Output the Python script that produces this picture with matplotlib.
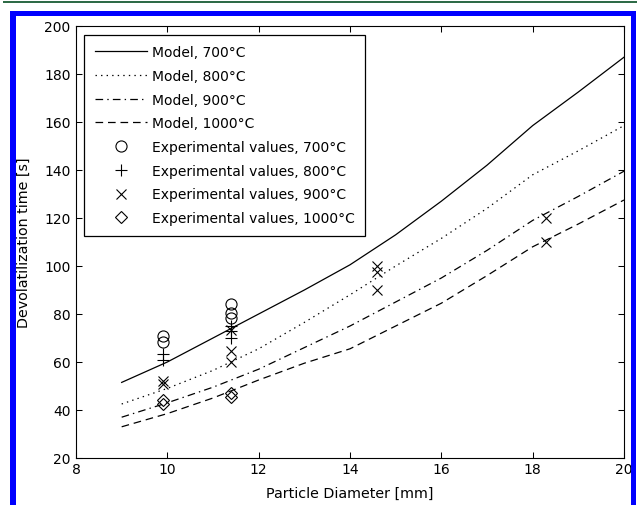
#!/usr/bin/env python3
"""Devolatilization time vs particle diameter: model curves and experiments."""

from __future__ import annotations

import matplotlib

matplotlib.use("Agg")
import matplotlib.pyplot as plt
from matplotlib.patches import Rectangle

W_PX, H_PX = 637, 506

# model curves
x_model = [9, 10, 11, 12, 13, 14, 15, 16, 17, 18, 19, 20]
t_700 = [51.5, 60, 70, 80, 90, 100.5, 113, 127, 142, 158.5, 172.5, 187]
t_800 = [42.5, 49, 56.5, 65.5, 76.5, 88, 100, 111.5, 124, 138, 148, 158.5]
t_900 = [37, 43, 49.5, 57, 66, 75, 85, 95, 106.5, 119, 129, 139.5]
t_1000 = [33, 38.5, 45, 52.5, 59.5, 65.5, 75, 84.5, 96, 108, 117.5, 127.5]

# experimental points
x_exp_700 = [9.9, 9.9, 11.4, 11.4, 11.4]
y_exp_700 = [71, 68.5, 84, 80.5, 78.5]
x_exp_800 = [9.9, 9.9, 11.4, 11.4, 11.4]
y_exp_800 = [63.5, 61, 75, 73, 70]
x_exp_900 = [9.9, 9.9, 11.4, 11.4, 11.4, 14.6, 14.6, 14.6, 18.3, 18.3]
y_exp_900 = [52, 51, 73.5, 64.5, 60, 100, 97.5, 90, 120, 110]
x_exp_1000 = [9.9, 9.9, 11.4, 11.4]
y_exp_1000 = [44, 42.5, 47, 45.5]

x_ticks = [8, 10, 12, 14, 16, 18, 20]
y_ticks = [20, 40, 60, 80, 100, 120, 140, 160, 180, 200]


def _px_rect(fig, x0, y0, x1, y1, color):
    # pixel box (top-left origin) -> figure fraction
    rect = Rectangle(
        (x0 / W_PX, 1 - y1 / H_PX),
        (x1 - x0) / W_PX,
        (y1 - y0) / H_PX,
        transform=fig.transFigure,
        facecolor=color,
        edgecolor="none",
        zorder=0,
    )
    fig.patches.append(rect)


def _frame(fig):
    _px_rect(fig, 3, 1.5, 637, 3.8, "#2e6b47")
    _px_rect(fig, 10, 12, 636, 17, "#0000ff")
    _px_rect(fig, 10, 12, 16, 506, "#0000ff")
    _px_rect(fig, 631, 12, 636, 506, "#0000ff")


def main() -> None:
    plt.rcParams["font.family"] = ["DejaVu Sans"]
    plt.rcParams["font.size"] = 10
    plt.rcParams["lines.scale_dashes"] = False

    fig = plt.figure(figsize=(W_PX / 100, H_PX / 100), dpi=100)
    fig.patch.set_facecolor("white")
    _frame(fig)

    left, right, top, bottom = 76, 624, 27, 459
    ax = fig.add_axes([left / W_PX, 1 - bottom / H_PX, (right - left) / W_PX, (bottom - top) / H_PX])

    lw = 0.9
    ax.plot(x_model, t_700, color="black", lw=lw, linestyle="-", label="Model, 700°C")
    ax.plot(x_model, t_800, color="black", lw=lw, linestyle=(0, (1, 3)), label="Model, 800°C")
    ax.plot(x_model, t_900, color="black", lw=lw, linestyle=(0, (5.5, 3, 1, 3)), label="Model, 900°C")
    ax.plot(x_model, t_1000, color="black", lw=lw, linestyle=(0, (5.5, 3.5)), label="Model, 1000°C")

    mk = dict(color="black", linestyle="none", markerfacecolor="none", markeredgewidth=0.8)
    ax.plot(x_exp_700, y_exp_700, marker="o", markersize=8, label="Experimental values, 700°C", **mk)
    ax.plot(x_exp_800, y_exp_800, marker="+", markersize=9, label="Experimental values, 800°C", **mk)
    ax.plot(x_exp_900, y_exp_900, marker="x", markersize=7, label="Experimental values, 900°C", **mk)
    ax.plot(x_exp_1000, y_exp_1000, marker="D", markersize=6.2, label="Experimental values, 1000°C", **mk)

    ax.set_xlim(8, 20)
    ax.set_ylim(20, 200)
    ax.set_xticks(x_ticks)
    ax.set_yticks(y_ticks)
    ax.tick_params(direction="in", length=4.2, width=0.75, top=True, right=True, labelsize=10)
    ax.tick_params(axis="x", pad=3)
    ax.tick_params(axis="y", pad=4)
    for sp in ax.spines.values():
        sp.set_linewidth(0.8)

    ax.set_xlabel("Particle Diameter [mm]", fontsize=10.3)
    ax.set_ylabel("Devolatilization time [s]", fontsize=10.3)
    ax.xaxis.set_label_coords(0.5, -0.065)
    ax.yaxis.set_label_coords(-0.083, 0.5)

    leg = ax.legend(
        loc="upper left",
        bbox_to_anchor=(0.0151, 0.9799),
        fontsize=10,
        frameon=True,
        fancybox=False,
        edgecolor="black",
        framealpha=1,
        borderpad=0.75,
        labelspacing=0.7,
        handlelength=3.8,
        handletextpad=0.3,
        borderaxespad=0,
    )
    leg.get_frame().set_linewidth(0.9)

    fig.savefig("out.png", dpi=100, facecolor="white")
    plt.close(fig)


if __name__ == "__main__":
    main()
